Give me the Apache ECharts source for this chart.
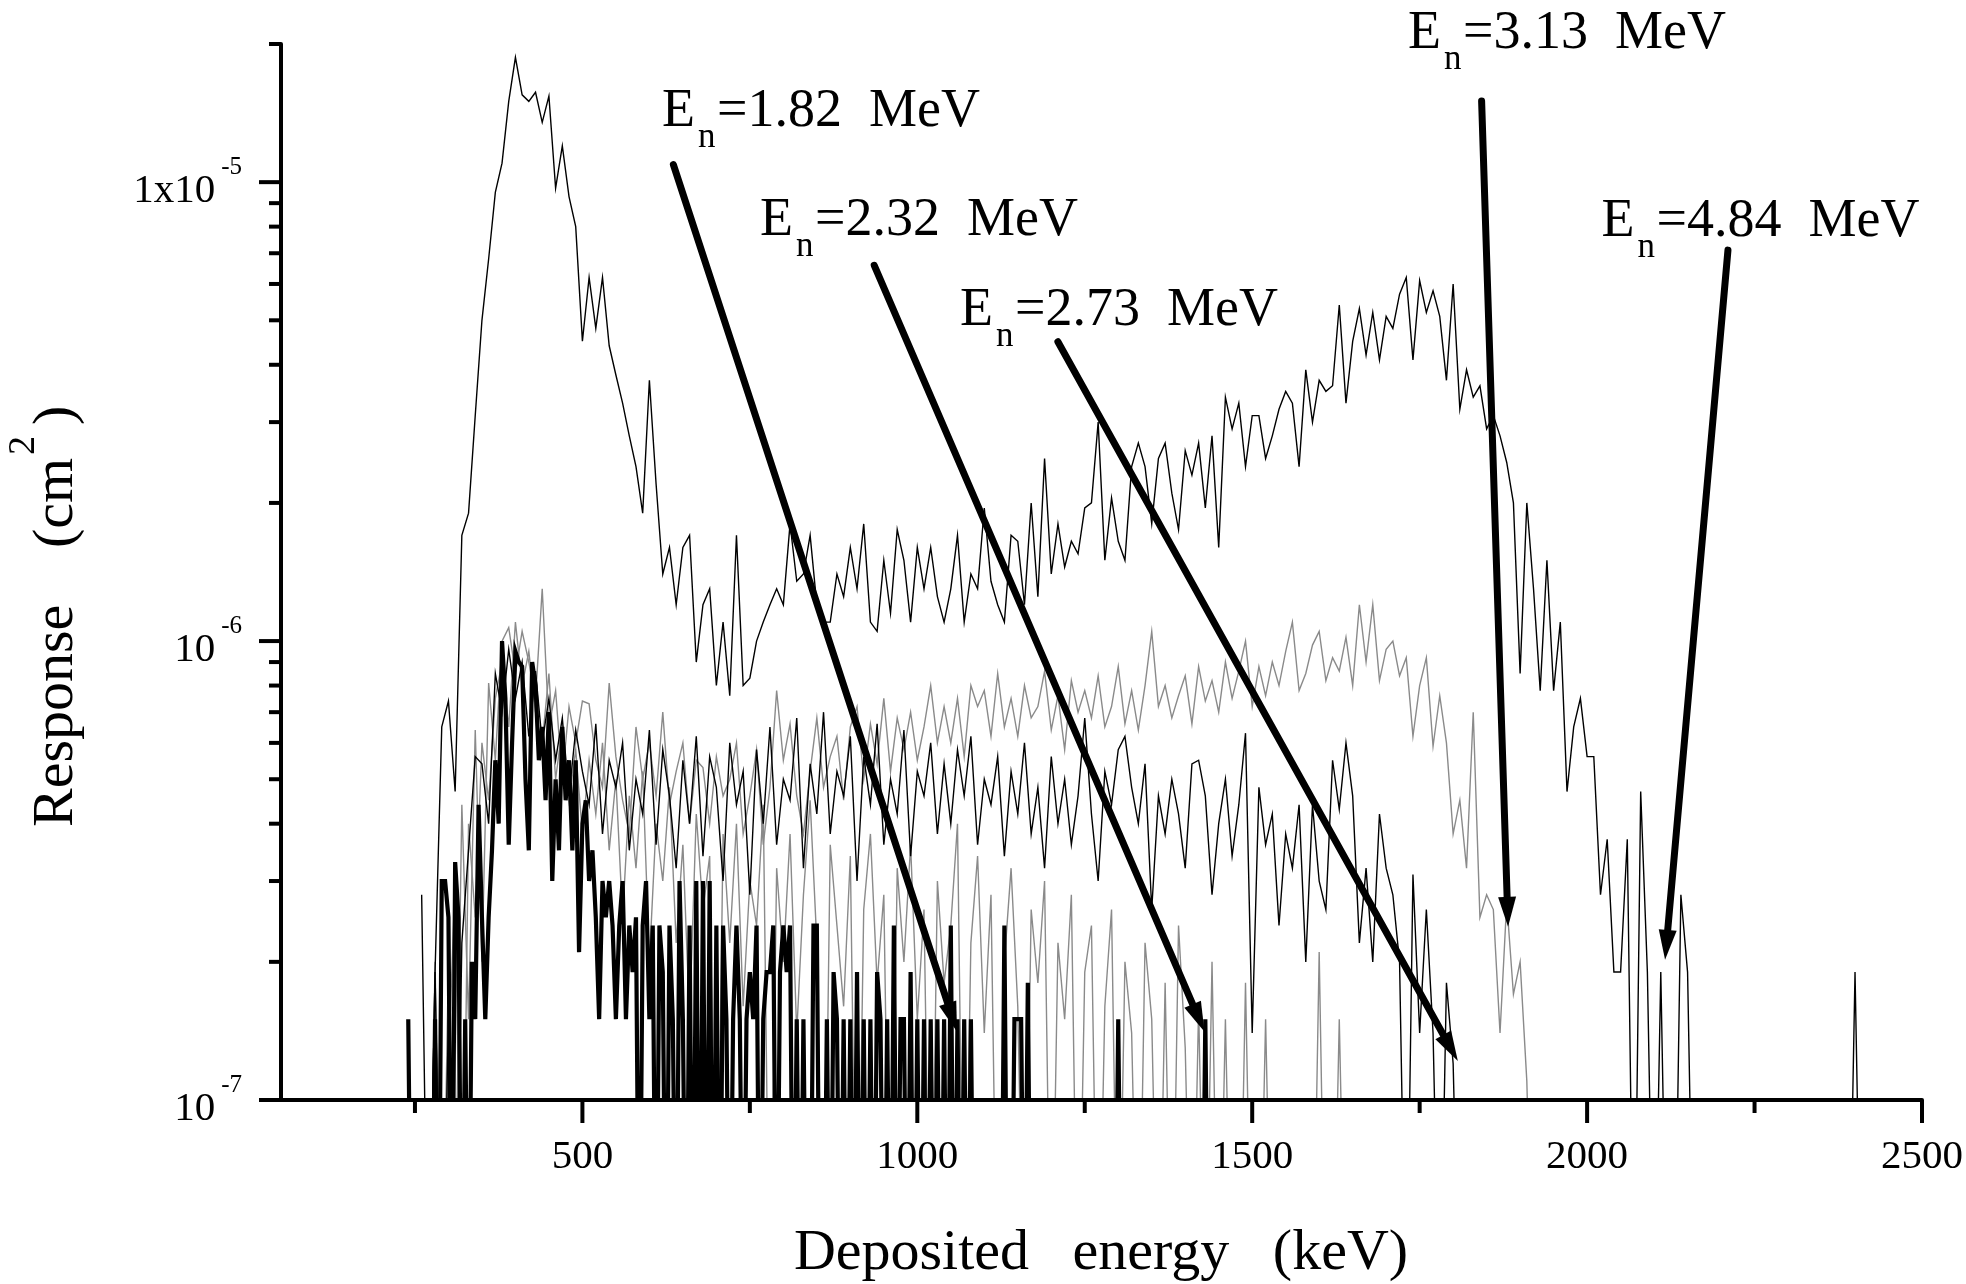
<!DOCTYPE html>
<html><head><meta charset="utf-8">
<script src="https://cdn.jsdelivr.net/npm/echarts@6/dist/echarts.min.js"></script>
<style>html,body{margin:0;padding:0;background:#fff;}#c{width:1966px;height:1284px;}</style>
</head><body><div id="c"></div>
<script>
// ---- data (response in units of 1e-7 cm^2) ----
const UNIT = 1e-7;

// E_n = 1.82 MeV (thick black), 5 keV bins
const start182 = 240, bin182 = 5;
const resp182 = [
 1.5,0.3,0.3,0.3,0.3,0.3,0.3,0.3,1.5,0.3,3.0,3.0,2.5,0.3,3.3,2.5,0.3,1.5,0.3,2.0,
 1.5,4.4,2.5,1.5,2.5,3.5,5.5,4.0,10.0,7.5,3.6,6.0,9.5,9.0,8.8,5.0,3.5,9.0,8.0,5.5,
 6.5,4.5,7.0,3.0,5.0,3.5,6.5,4.5,5.5,3.5,5.5,2.1,4.0,4.5,3.0,3.5,2.5,1.5,3.0,2.5,
 3.0,2.4,1.5,2.4,3.0,1.5,2.4,1.9,2.5,0.3,2.4,3.0,1.5,2.4,0.3,2.4,1.9,0.3,2.4,1.5,
 0.3,3.0,1.5,0.3,2.4,0.3,3.0,0.3,3.0,0.3,3.0,0.3,2.4,0.3,2.4,1.5,0.3,1.5,2.4,1.5,
 0.3,1.5,1.9,1.5,2.4,0.3,1.5,1.9,1.9,2.4,0.3,1.9,2.4,1.9,2.4,0.3,1.5,0.3,1.5,0.3,
 0.3,2.4,2.4,0.3,0.3,1.5,0.3,1.9,1.5,0.3,1.5,0.3,1.5,0.3,1.9,0.3,1.5,0.3,1.5,0.3,
 1.9,1.5,0.3,1.5,0.3,2.4,0.3,1.5,1.5,0.3,1.9,0.3,1.5,0.3,1.5,0.3,1.5,0.3,1.5,0.3,
 1.5,0.3,2.4,0.3,1.5,0.3,1.5,0.3,1.5,0.3,0.3,0.3,0.3,0.3,0.3,0.3,0.3,0.3,2.4,0.3,
 0.3,1.5,1.5,1.5,0.3,1.8,0.3,0.3,0.3,0.3,0.3,0.3,0.3,0.3,0.3,0.3,0.3,0.3,0.3,0.3,
 0.3,0.3,0.3,0.3,0.3,0.3,0.3,0.3,0.3,0.3,0.3,0.3,1.5,0.3,0.3,0.3,0.3,0.3,0.3,0.3,
 0.3,0.3,0.3,0.3,0.3,0.3,0.3,0.3,0.3,0.3,0.3,0.3,0.3,0.3,0.3,0.3,0.3,0.3,1.5,0.3];

// E_n = 2.32 MeV (grey, lower), 10 keV bins
const start232 = 270, bin232 = 10;
const resp232 = [0.3,2.0,0.3,1.2,3.0,0.3,4.0,2.5,6.0,4.5,7.5,9.0,6.5,11.0,8.0,9.5,7.0,6.0,8.5,5.0,
 6.5,4.5,5.8,3.8,5.5,4.2,6.0,3.5,5.0,2.5,4.6,3.2,5.2,2.0,4.0,3.0,4.8,2.2,3.6,1.5,
 4.2,2.6,3.4,0.3,3.8,2.2,4.0,1.6,3.0,2.4,4.4,0.3,3.2,2.0,3.8,1.4,2.8,4.5,2.2,0.3,
 3.6,2.4,1.6,3.4,0.3,2.6,3.8,1.8,2.8,0.3,3.2,2.0,3.6,1.5,2.6,0.3,3.0,1.8,2.4,4.0,
 0.3,2.2,3.4,1.4,2.8,0.3,2.0,3.2,1.6,0.3,2.6,1.8,3.0,0.3,2.2,1.5,2.8,0.3,1.9,2.4,
 0.3,1.6,2.6,0.3,2.0,1.4,0.3,2.2,1.5,0.3,1.8,0.3,2.4,1.3,0.3,1.6,0.3,2.0,0.3,1.5,
 0.3,0.3,1.8,0.3,0.3,1.5,0.3,0.3,0.3,0.3,0.3,0.3,0.3,2.1,0.3,0.3,1.5,0.3];

// E_n = 2.73 MeV (thin black, middle), 10 keV bins
const start273 = 260, bin273 = 10;
const resp273 = [2.8,0.3,1.9,0.3,1.5,0.3,2.2,3.5,5.6,5.4,4.0,8.5,7.0,9.6,7.5,9.0,6.2,8.6,6.0,7.5,
 5.5,6.8,4.6,6.4,5.2,4.4,6.6,3.8,5.5,4.8,6.0,3.5,5.0,4.2,6.4,3.6,5.8,4.6,3.2,5.5,
 4.0,6.2,3.4,5.6,4.8,3.0,6.0,4.4,5.2,2.8,5.8,4.0,6.5,3.6,5.0,4.5,6.8,3.2,5.4,4.2,
 7.0,3.8,5.2,4.6,6.2,3.0,5.6,4.4,6.6,3.6,5.0,4.2,6.4,3.4,5.2,4.6,6.0,3.8,5.4,4.0,
 5.8,4.6,6.2,3.6,5.0,4.4,5.6,3.4,5.2,4.2,6.0,3.8,4.8,3.2,5.6,4.0,5.0,3.6,4.6,6.8,
 4.2,3.0,5.2,4.4,5.8,6.2,4.8,4.0,5.4,2.6,4.6,3.8,5.0,4.2,3.2,5.4,5.5,4.6,2.8,4.0,
 5.0,3.4,4.4,6.3,1.4,4.8,3.6,4.2,2.4,3.8,3.2,4.4,2.0,4.4,3.0,2.6,5.5,4.3,6.0,4.6,
 2.2,3.2,2.0,4.2,3.2,2.8,2.0,0.3,3.1,1.4,2.6,1.4,0.3,1.8,1.2,0.3];

// E_n = 3.13 MeV (grey, upper), 10 keV bins
const start313 = 270, bin313 = 10;
const resp313 = [0.3,1.8,0.3,2.0,0.5,4.4,1.5,6.4,2.0,8.1,5.5,10,10.7,8.5,10.5,9,7.5,13,6.5,7.8,
 5.0,7.2,6.0,7.4,7.3,5.5,4.8,8.1,5.6,4.5,3.8,6.5,5.0,6.0,4.6,7.0,4.4,5.2,6.0,4.0,
 5.5,5.3,4.0,5.6,4.6,5.0,6.0,3.8,4.6,5.8,3.6,4.8,7.8,5.5,6.6,4.6,3.8,5.2,6.8,4.8,
 5.6,6.2,4.5,6.5,7.2,5.0,6.6,5.4,7.5,5.2,6.8,5.8,7.0,5.5,6.5,8.0,6.0,7.2,6.0,7.5,
 5.6,8.0,7.2,7.8,6.2,8.5,6.5,7.5,6.2,8.0,6.8,7.2,8.6,6.4,7.6,5.8,8.2,7.0,7.8,6.8,
 8.4,6.5,7.2,8.8,6.6,7.8,6.4,8.0,10.5,7.2,8.0,6.8,7.6,8.4,6.6,8.8,7.4,8.2,7.0,9.0,
 7.5,8.6,10.0,7.2,8.8,7.6,9.0,8.0,9.5,11.0,7.8,8.5,9.8,10.5,8.2,9.2,8.6,10.2,8.0,12.0,
 9.0,12.0,8.2,9.6,10.0,8.4,9.2,6.2,8.0,9.2,5.9,7.6,6.0,3.8,4.5,3.2,7.0,2.5,2.8,2.6,
 1.4,2.7,1.7,2.0,1.1,0.3];

// E_n = 4.84 MeV (thin black, top), 10 keV bins
const start484 = 250, bin484 = 10;
const resp484 = [0.3,0.3,0.3,1.9,6.5,7.4,4.7,17,19,31,50,68,95,110,150,187,155,150,157,135,
 154,97,120,93,80,45,62,48,62,44,38,33,28,24,19,37,22,14,16,12,
 16,17,9,12,13,8,11,7.6,17,8,8.3,10,11,12,13,12,18,13.5,14,17,
 12,11,11,14,12.5,16,13,18,11,10.5,15,11.5,17.5,15,11,16,13,16,12.5,11,
 13,17,11,14,13,19.5,13.5,12,11,17,16.5,12,20,12.5,25,14,18,14.5,16.5,15.5,
 19.5,20,30,15,20.5,16.5,15,24,27,24,18,25,27,21,17.5,26,23,27,19.5,28,
 16,34,29,33,24,31,31,25,28,32,35,33,24,39,30,37,35,36,54,33,
 45,53,42,52,41,51,48,57,62,41,61,52,58,51,37,60,32,39,34,36,
 29,31,28,24.5,20,8.5,20,13,7.8,15,7.8,11,4.7,6.5,7.5,5.6,5.6,2.8,3.7,1.9,
 1.9,3.7,0.3,4.7,1.9,0.3,1.9,0.3,0.3,2.8,1.9,0.3,0.3,0.3,0.3,0.3,0.3,0.3,0.3,0.3,
 0.3,0.3,0.3,0.3,0.3,0.3,0.3,0.3,0.3,0.3,0.3,0.3,0.3,0.3,0.3,1.9,0.3];

// axis ticks
const xTickLabels = [500, 1000, 1500, 2000, 2500];
const xMajorTicks = [500, 1000, 1500, 2000, 2500];
const xMinorTicks = [250, 750, 1250, 1750, 2250];
const yMajorTicks = [1e-7, 1e-6, 1e-5];
const yMinorTicks = [2e-7,3e-7,4e-7,5e-7,6e-7,7e-7,8e-7,9e-7,2e-6,3e-6,4e-6,5e-6,6e-6,7e-6,8e-6,9e-6,2e-5];

// annotation arrows, in data coordinates [keV, cm^2]
const arrowLabels = ['1.82', '2.32', '2.73', '3.13', '4.84'];
const arrowFrom = [[635.8, 1.092e-5], [935.7, 6.59e-6], [1209.9, 4.49e-6], [1842.5, 1.503e-5], [2210.3, 7.11e-6]];
const arrowTo = [[1059.3, 1.408e-7], [1428.8, 1.408e-7], [1807, 1.216e-7], [1882, 2.384e-7], [2116.4, 2.02e-7]];

// ---- build ----
function toPairs(start, step, arr) { return arr.map((v, i) => [start + i * step, v * UNIT]); }
const FONT = 'Liberation Serif';
const X_MIN = 50, X_MAX = 2500, Y_MIN = 1e-7, Y_MAX = 2e-5;

const tickData = [];
xMajorTicks.forEach(v => tickData.push([v, Y_MIN, 0]));
xMinorTicks.forEach(v => tickData.push([v, Y_MIN, 1]));
yMajorTicks.forEach(v => tickData.push([X_MIN, v, 2]));
yMinorTicks.forEach(v => tickData.push([X_MIN, v, 3]));

const arrowData = arrowFrom.map((f, i) => [f[0], f[1], arrowTo[i][0], arrowTo[i][1]]);

function lineSeries(name, data, color, width, z) {
  return { name, type: 'line', data, showSymbol: false, symbol: 'none',
    lineStyle: { color, width, join: 'miter' }, clip: true, z, animation: false, silent: true };
}

const chart = echarts.init(document.getElementById('c'), null, { renderer: 'canvas' });

function txt(x, y, text, size, align, rot) {
  const o = { type: 'text', x, y, silent: true, z: 100,
    style: { text, font: size + 'px "' + FONT + '"', fill: '#000', align, verticalAlign: 'middle', textAlign: align, textVerticalAlign: 'middle' } };
  if (rot) o.rotation = rot;
  return o;
}
const labelPos = [ [662, 112], [760, 220.5], [960, 311.3], [1408, 33.5], [1601.6, 222] ];
const graphics = [];
arrowLabels.forEach((t, i) => {
  const [x, y] = labelPos[i];
  graphics.push(txt(x, y, 'E', 54, 'left'));
  graphics.push(txt(x + 36, y + 26, 'n', 35, 'left'));
  graphics.push(txt(x + 55, y, '=' + t + '  MeV', 54, 'left'));
});
graphics.push(txt(1101, 1254, 'Deposited   energy   (keV)', 58, 'center'));
graphics.push(txt(57, 827, 'Response', 58, 'left', Math.PI / 2));
graphics.push(txt(57, 548, '(cm', 58, 'left', Math.PI / 2));
graphics.push(txt(24, 455, '2', 38, 'left', Math.PI / 2));
graphics.push(txt(57, 425, ')', 58, 'left', Math.PI / 2));

const option = {
  animation: false,
  backgroundColor: '#fff',
  grid: { left: 281, top: 44, width: 1641, height: 1056, containLabel: false, outerBoundsMode: 'none' },
  xAxis: {
    type: 'value', min: X_MIN, max: X_MAX, z: 10,
    axisLine: { show: true, onZero: false, lineStyle: { color: '#000', width: 4 } },
    axisTick: { show: false }, splitLine: { show: false },
    axisLabel: { show: true, margin: 36, color: '#000', fontFamily: FONT, fontSize: 41, lineHeight: 42,
      customValues: xTickLabels,
      formatter: v => (xTickLabels.indexOf(v) >= 0 ? String(v) : '') }
  },
  yAxis: {
    type: 'log', logBase: 10, min: Y_MIN, max: Y_MAX, z: 10,
    axisLine: { show: true, onZero: false, lineStyle: { color: '#000', width: 4 } },
    axisTick: { show: false }, splitLine: { show: false }, minorTick: { show: false },
    axisLabel: { show: true, margin: 39, color: '#000', fontFamily: FONT,
      formatter: v => {
        const l = Math.log10(v); const e = Math.round(l);
        if (Math.abs(l - e) > 1e-6) return '';
        return e === -5 ? '{b|1x10}{s|' + e + '}' : '{b|10}{s|' + e + '}';
      },
      rich: {
        b: { fontFamily: FONT, fontSize: 41, lineHeight: 60, verticalAlign: 'bottom', color: '#000' },
        s: { fontFamily: FONT, fontSize: 25, lineHeight: 26, padding: [0, 0, 32, 6], verticalAlign: 'bottom', color: '#000' }
      }
    }
  },
  graphic: graphics,
  series: [
    lineSeries('E_n=3.13 MeV', toPairs(start313, bin313, resp313), '#8a8a8a', 1.4, 2),
    lineSeries('E_n=2.32 MeV', toPairs(start232, bin232, resp232), '#8a8a8a', 1.4, 2),
    lineSeries('E_n=2.73 MeV', toPairs(start273, bin273, resp273), '#000', 1.4, 3),
    lineSeries('E_n=4.84 MeV', toPairs(start484, bin484, resp484), '#000', 1.4, 3),
    lineSeries('E_n=1.82 MeV', toPairs(start182, bin182, resp182), '#000', 4.2, 4),
    {
      type: 'custom', name: 'ticks', data: tickData, dimensions: ['x', 'y', 'k'],
      encode: { x: 0, y: 1 }, clip: false, silent: true, z: 11, animation: false,
      renderItem: (params, api) => {
        const k = api.value(2);
        const p = api.coord([api.value(0), api.value(1)]);
        let shape;
        if (k === 0) shape = { x1: p[0], y1: p[1], x2: p[0], y2: p[1] + 23 };
        else if (k === 1) shape = { x1: p[0], y1: p[1], x2: p[0], y2: p[1] + 13 };
        else if (k === 2) shape = { x1: p[0] - 22, y1: p[1], x2: p[0], y2: p[1] };
        else shape = { x1: p[0] - 12, y1: p[1], x2: p[0], y2: p[1] };
        return { type: 'line', shape, style: { stroke: '#000', lineWidth: 4, lineCap: 'butt' } };
      }
    },
    {
      type: 'custom', name: 'arrows', data: arrowData, dimensions: ['x1', 'y1', 'x2', 'y2'],
      encode: { x: [0, 2], y: [1, 3] }, clip: false, silent: true, z: 20, animation: false,
      renderItem: (params, api) => {
        const a = api.coord([api.value(0), api.value(1)]);
        const b = api.coord([api.value(2), api.value(3)]);
        const dx = b[0] - a[0], dy = b[1] - a[1], L = Math.hypot(dx, dy);
        const ux = dx / L, uy = dy / L, hl = 30, hw = 9;
        const bx = b[0] - ux * hl, by = b[1] - uy * hl;
        return { type: 'group', children: [
          { type: 'line', shape: { x1: a[0], y1: a[1], x2: bx + ux * 4, y2: by + uy * 4 },
            style: { stroke: '#000', lineWidth: 7, lineCap: 'round' } },
          { type: 'polygon', shape: { points: [[b[0], b[1]], [bx - uy * hw, by + ux * hw], [bx + uy * hw, by - ux * hw]] },
            style: { fill: '#000' } }
        ] };
      }
    }
  ]
};
chart.setOption(option);
</script>
</body></html>
